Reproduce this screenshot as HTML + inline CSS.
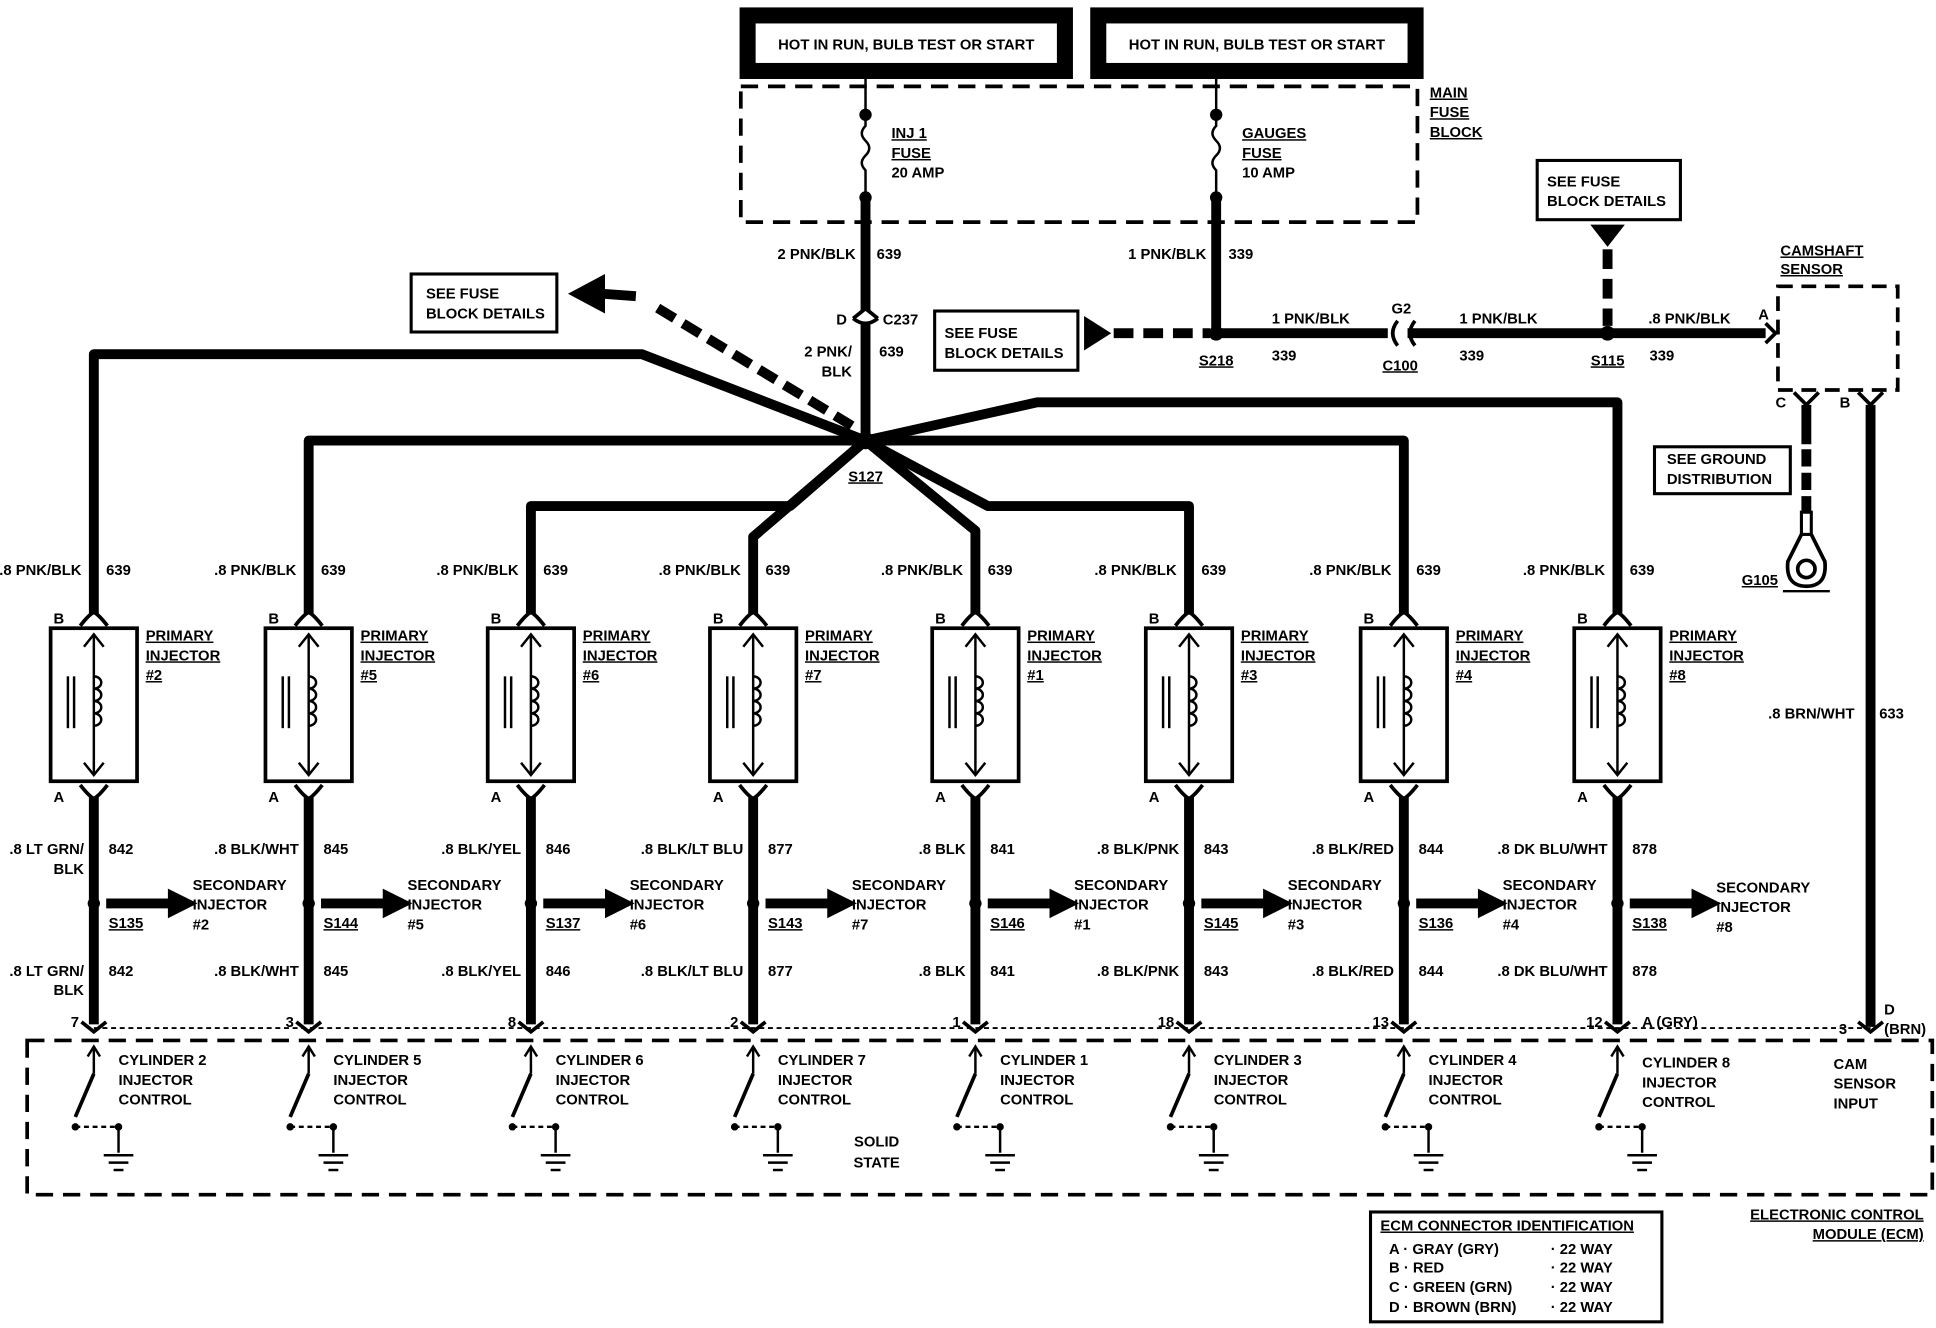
<!DOCTYPE html>
<html><head><meta charset="utf-8"><style>
html,body{margin:0;padding:0;background:#fff;}
svg{display:block;}
text{font-family:"Liberation Sans",sans-serif;font-weight:bold;font-size:12px;fill:#000;}
.u{text-decoration:underline;}
.w{stroke:#000;stroke-width:8;fill:none;stroke-linejoin:round;}
.th{stroke:#000;stroke-width:3;fill:none;}
.tn{stroke:#000;stroke-width:2;fill:none;}
</style></head><body>
<svg width="1936" height="1328" viewBox="0 0 1568 1076" preserveAspectRatio="none" xmlns="http://www.w3.org/2000/svg">
<defs>
<g id="inj">
 <path class="th" d="M-11,507 Q-4,498 0,496 Q4,498 11,507"/>
 <rect x="-35" y="509" width="70" height="124" class="th" stroke-width="4"/>
 <line x1="0" y1="514" x2="0" y2="628" class="tn"/>
 <polyline points="-8,524 0,514 8,524" class="tn"/>
 <polyline points="-8,618 0,628 8,618" class="tn"/>
 <path class="tn" d="M0,548 a6,5 0 1 1 0,10 a6,5 0 1 1 0,10 a6,5 0 1 1 0,10 a6,5 0 1 1 0,10"/>
 <line x1="-21" y1="548" x2="-21" y2="590" class="tn"/>
 <line x1="-16" y1="548" x2="-16" y2="590" class="tn"/>
 <path class="th" d="M-11,636 Q-4,645 0,647 Q4,645 11,636"/>
 <line x1="0" y1="646" x2="0" y2="830" class="w"/>
 <circle cx="0" cy="732" r="5" fill="#000"/>
 <line x1="10" y1="732" x2="62" y2="732" class="w"/>
 <polygon points="60,720 84,732 60,744" fill="#000"/>
 <path class="th" d="M-10,828 L0,836 L10,828"/>
 <line x1="0" y1="848" x2="0" y2="870" class="tn"/>
 <polyline points="-5,856 0,848 5,856" class="tn"/>
 <line x1="0" y1="870" x2="-15" y2="905" class="th" stroke-width="2.5"/>
 <circle cx="-15" cy="913" r="3" fill="#000"/>
 <line x1="-15" y1="913" x2="20" y2="913" class="tn" stroke-dasharray="4 3"/>
 <line x1="20" y1="913" x2="20" y2="934" class="tn"/>
 <circle cx="20" cy="913" r="3" fill="#000"/>
 <line x1="8" y1="936" x2="32" y2="936" class="tn"/>
 <line x1="12" y1="942" x2="28" y2="942" class="tn"/>
 <line x1="16" y1="948" x2="24" y2="948" class="tn"/>
 <text x="-10" y="466" text-anchor="end">.8 PNK/BLK</text>
 <text x="10" y="466">639</text>
 <text x="-24" y="505" text-anchor="end">B</text>
 <text x="-24" y="650" text-anchor="end">A</text>
 <text x="42" y="519" class="u">PRIMARY</text>
 <text x="42" y="535" class="u">INJECTOR</text>
</g>
</defs>

<rect x="599" y="6" width="270" height="58" fill="#000"/>
<rect x="612" y="19" width="244" height="32" fill="#fff"/>
<text x="734" y="40" text-anchor="middle">HOT IN RUN, BULB TEST OR START</text>
<rect x="883" y="6" width="270" height="58" fill="#000"/>
<rect x="896" y="19" width="244" height="32" fill="#fff"/>
<text x="1018" y="40" text-anchor="middle">HOT IN RUN, BULB TEST OR START</text>

<rect x="600" y="70" width="548" height="110" fill="none" stroke="#000" stroke-width="3" stroke-dasharray="14 8"/>
<text x="1158" y="79" class="u">MAIN</text>
<text x="1158" y="95" class="u">FUSE</text>
<text x="1158" y="111" class="u">BLOCK</text>
<line x1="701" y1="64" x2="701" y2="93" class="tn"/>
<circle cx="701" cy="93" r="5" fill="#000"/>
<path class="tn" d="M701,93 L701,102 q-6,6 0,12 q6,6 0,12 q-6,6 0,12 L701,160"/>
<circle cx="701" cy="160" r="5" fill="#000"/>
<text x="722" y="112" class="u">INJ 1</text>
<text x="722" y="128" class="u">FUSE</text>
<text x="722" y="144">20 AMP</text>
<line x1="985" y1="64" x2="985" y2="93" class="tn"/>
<circle cx="985" cy="93" r="5" fill="#000"/>
<path class="tn" d="M985,93 L985,102 q-6,6 0,12 q6,6 0,12 q-6,6 0,12 L985,160"/>
<circle cx="985" cy="160" r="5" fill="#000"/>
<text x="1006" y="112" class="u">GAUGES</text>
<text x="1006" y="128" class="u">FUSE</text>
<text x="1006" y="144">10 AMP</text>

<line x1="701" y1="160" x2="701" y2="252" class="w"/>
<path class="th" d="M691,258 L701,250 L711,258"/>
<path class="th" d="M691,258 Q701,266 711,258"/>
<line x1="701" y1="262" x2="701" y2="357" class="w"/>
<text x="693" y="210" text-anchor="end">2 PNK/BLK</text>
<text x="710" y="210">639</text>
<text x="686" y="263" text-anchor="end">D</text>
<text x="715" y="263">C237</text>
<text x="690" y="289" text-anchor="end">2 PNK/</text>
<text x="690" y="305" text-anchor="end">BLK</text>
<text x="712" y="289">639</text>

<path class="w" d="M701,357 L520,287 L76,287 L76,497"/>
<path class="w" d="M701,357 L250,357 L250,497"/>
<path class="w" d="M701,357 L640,410 L430,410 L430,497"/>
<path class="w" d="M701,357 L610,435 L610,497"/>
<path class="w" d="M701,357 L790,430 L790,497"/>
<path class="w" d="M701,357 L800,410 L963,410 L963,497"/>
<path class="w" d="M701,357 L1137,357 L1137,497"/>
<path class="w" d="M701,357 L840,326 L1310,326 L1310,497"/>
<circle cx="701" cy="357" r="7" fill="#000"/>
<text x="701" y="390" text-anchor="middle" class="u">S127</text>
<line x1="690" y1="345" x2="530" y2="248" class="w" stroke-dasharray="16 8"/>
<line x1="515" y1="240" x2="488" y2="238" class="w"/>
<polygon points="460,238 490,222 490,254" fill="#000"/>
<rect x="333" y="222" width="118" height="47" fill="#fff" stroke="#000" stroke-width="2.5"/>
<text x="345" y="242">SEE FUSE</text>
<text x="345" y="258">BLOCK DETAILS</text>

<line x1="985" y1="160" x2="985" y2="270" class="w"/>
<text x="977" y="210" text-anchor="end">1 PNK/BLK</text>
<text x="995" y="210">339</text>
<rect x="757" y="252" width="116" height="48" fill="#fff" stroke="#000" stroke-width="2.5"/>
<text x="765" y="274">SEE FUSE</text>
<text x="765" y="290">BLOCK DETAILS</text>
<polygon points="878,256 900,270 878,284" fill="#000"/>
<line x1="902" y1="270" x2="980" y2="270" class="w" stroke-dasharray="16 8"/>
<line x1="985" y1="270" x2="1124" y2="270" class="w"/>
<path class="th" d="M1132,260 Q1124,270 1132,280"/>
<path class="th" d="M1146,260 Q1138,270 1146,280"/>
<line x1="1140" y1="270" x2="1430" y2="270" class="w"/>
<circle cx="985" cy="270" r="6" fill="#000"/>
<text x="985" y="296" text-anchor="middle" class="u">S218</text>
<text x="1030" y="262">1 PNK/BLK</text>
<text x="1030" y="292">339</text>
<text x="1135" y="254" text-anchor="middle">G2</text>
<text x="1134" y="300" text-anchor="middle" class="u">C100</text>
<text x="1182" y="262">1 PNK/BLK</text>
<text x="1182" y="292">339</text>
<circle cx="1302" cy="270" r="6" fill="#000"/>
<text x="1302" y="296" text-anchor="middle" class="u">S115</text>
<text x="1335" y="262">.8 PNK/BLK</text>
<text x="1336" y="292">339</text>
<rect x="1245" y="130" width="116" height="48" fill="#fff" stroke="#000" stroke-width="2.5"/>
<text x="1253" y="151">SEE FUSE</text>
<text x="1253" y="167">BLOCK DETAILS</text>
<polygon points="1288,182 1316,182 1302,200" fill="#000"/>
<line x1="1302" y1="202" x2="1302" y2="264" class="w" stroke-dasharray="16 8"/>

<path class="th" d="M1430,262 L1438,270 L1430,278"/>
<rect x="1440" y="232" width="97" height="84" fill="none" stroke="#000" stroke-width="3" stroke-dasharray="12 7"/>
<text x="1442" y="207" class="u">CAMSHAFT</text>
<text x="1442" y="222" class="u">SENSOR</text>
<text x="1424" y="259">A</text>
<text x="1438" y="330">C</text>
<text x="1490" y="330">B</text>
<path class="th" d="M1453,318 L1463,328 L1473,318"/>
<path class="th" d="M1505,318 L1515,328 L1525,318"/>
<line x1="1463" y1="328" x2="1463" y2="360" class="w"/>
<line x1="1463" y1="364" x2="1463" y2="415" class="w" stroke-dasharray="14 5"/>
<rect x="1340" y="362" width="110" height="38" fill="#fff" stroke="#000" stroke-width="2.5"/>
<text x="1350" y="376">SEE GROUND</text>
<text x="1350" y="392">DISTRIBUTION</text>
<rect x="1459" y="415" width="8" height="18" fill="none" stroke="#000" stroke-width="2.5"/>
<path class="th" d="M1459,433 L1448,455 Q1446,475 1463,475 Q1480,475 1478,455 L1467,433"/>
<circle cx="1463" cy="461" r="7" class="th"/>
<line x1="1444" y1="479" x2="1482" y2="479" class="tn"/>
<text x="1440" y="474" text-anchor="end" class="u">G105</text>
<line x1="1515" y1="328" x2="1515" y2="832" class="w"/>
<text x="1502" y="582" text-anchor="end">.8 BRN/WHT</text>
<text x="1522" y="582">633</text>
<path class="th" d="M1505,828 L1515,836 L1525,828"/>
<text x="1496" y="838" text-anchor="end">3</text>
<text x="1526" y="822">D</text>
<text x="1526" y="838">(BRN)</text>
<text x="1485" y="866">CAM</text>
<text x="1485" y="882">SENSOR</text>
<text x="1485" y="898">INPUT</text>

<line x1="76" y1="833" x2="1515" y2="833" stroke="#000" stroke-width="1.5" stroke-dasharray="4 3"/>
<rect x="22" y="843" width="1543" height="125" fill="none" stroke="#000" stroke-width="3" stroke-dasharray="14 8"/>
<text x="710" y="929" text-anchor="middle" font-size="14">SOLID</text>
<text x="710" y="946" text-anchor="middle" font-size="14">STATE</text>
<text x="1558" y="988" text-anchor="end" class="u">ELECTRONIC CONTROL</text>
<text x="1558" y="1004" text-anchor="end" class="u">MODULE (ECM)</text>
<rect x="1110" y="982" width="236" height="89" fill="none" stroke="#000" stroke-width="2.5"/>
<text x="1118" y="997" class="u">ECM CONNECTOR IDENTIFICATION</text>
<text x="1125" y="1016">A  ·  GRAY (GRY)</text><text x="1256" y="1016">·  22 WAY</text>
<text x="1125" y="1031">B  ·  RED</text><text x="1256" y="1031">·  22 WAY</text>
<text x="1125" y="1047">C  ·  GREEN (GRN)</text><text x="1256" y="1047">·  22 WAY</text>
<text x="1125" y="1063">D  ·  BROWN (BRN)</text><text x="1256" y="1063">·  22 WAY</text>

<g transform="translate(76,0)"><use href="#inj"/>
<text x="42" y="551" class="u">#2</text>
<text x="-8" y="692" text-anchor="end">.8 LT GRN/</text><text x="-8" y="708" text-anchor="end">BLK</text><text x="12" y="692">842</text>
<text x="12" y="752" class="u">S135</text>
<text x="80" y="721">SECONDARY</text><text x="80" y="737">INJECTOR</text><text x="80" y="753">#2</text>
<text x="-8" y="791" text-anchor="end">.8 LT GRN/</text><text x="-8" y="806" text-anchor="end">BLK</text><text x="12" y="791">842</text>
<text x="-12" y="832" text-anchor="end">7</text>
<text x="20" y="863">CYLINDER 2</text><text x="20" y="879">INJECTOR</text><text x="20" y="895">CONTROL</text></g>

<g transform="translate(250,0)"><use href="#inj"/>
<text x="42" y="551" class="u">#5</text>
<text x="-8" y="692" text-anchor="end">.8 BLK/WHT</text><text x="12" y="692">845</text>
<text x="12" y="752" class="u">S144</text>
<text x="80" y="721">SECONDARY</text><text x="80" y="737">INJECTOR</text><text x="80" y="753">#5</text>
<text x="-8" y="791" text-anchor="end">.8 BLK/WHT</text><text x="12" y="791">845</text>
<text x="-12" y="832" text-anchor="end">3</text>
<text x="20" y="863">CYLINDER 5</text><text x="20" y="879">INJECTOR</text><text x="20" y="895">CONTROL</text></g>

<g transform="translate(430,0)"><use href="#inj"/>
<text x="42" y="551" class="u">#6</text>
<text x="-8" y="692" text-anchor="end">.8 BLK/YEL</text><text x="12" y="692">846</text>
<text x="12" y="752" class="u">S137</text>
<text x="80" y="721">SECONDARY</text><text x="80" y="737">INJECTOR</text><text x="80" y="753">#6</text>
<text x="-8" y="791" text-anchor="end">.8 BLK/YEL</text><text x="12" y="791">846</text>
<text x="-12" y="832" text-anchor="end">8</text>
<text x="20" y="863">CYLINDER 6</text><text x="20" y="879">INJECTOR</text><text x="20" y="895">CONTROL</text></g>

<g transform="translate(610,0)"><use href="#inj"/>
<text x="42" y="551" class="u">#7</text>
<text x="-8" y="692" text-anchor="end">.8 BLK/LT BLU</text><text x="12" y="692">877</text>
<text x="12" y="752" class="u">S143</text>
<text x="80" y="721">SECONDARY</text><text x="80" y="737">INJECTOR</text><text x="80" y="753">#7</text>
<text x="-8" y="791" text-anchor="end">.8 BLK/LT BLU</text><text x="12" y="791">877</text>
<text x="-12" y="832" text-anchor="end">2</text>
<text x="20" y="863">CYLINDER 7</text><text x="20" y="879">INJECTOR</text><text x="20" y="895">CONTROL</text></g>

<g transform="translate(790,0)"><use href="#inj"/>
<text x="42" y="551" class="u">#1</text>
<text x="-8" y="692" text-anchor="end">.8 BLK</text><text x="12" y="692">841</text>
<text x="12" y="752" class="u">S146</text>
<text x="80" y="721">SECONDARY</text><text x="80" y="737">INJECTOR</text><text x="80" y="753">#1</text>
<text x="-8" y="791" text-anchor="end">.8 BLK</text><text x="12" y="791">841</text>
<text x="-12" y="832" text-anchor="end">1</text>
<text x="20" y="863">CYLINDER 1</text><text x="20" y="879">INJECTOR</text><text x="20" y="895">CONTROL</text></g>

<g transform="translate(963,0)"><use href="#inj"/>
<text x="42" y="551" class="u">#3</text>
<text x="-8" y="692" text-anchor="end">.8 BLK/PNK</text><text x="12" y="692">843</text>
<text x="12" y="752" class="u">S145</text>
<text x="80" y="721">SECONDARY</text><text x="80" y="737">INJECTOR</text><text x="80" y="753">#3</text>
<text x="-8" y="791" text-anchor="end">.8 BLK/PNK</text><text x="12" y="791">843</text>
<text x="-12" y="832" text-anchor="end">18</text>
<text x="20" y="863">CYLINDER 3</text><text x="20" y="879">INJECTOR</text><text x="20" y="895">CONTROL</text></g>

<g transform="translate(1137,0)"><use href="#inj"/>
<text x="42" y="551" class="u">#4</text>
<text x="-8" y="692" text-anchor="end">.8 BLK/RED</text><text x="12" y="692">844</text>
<text x="12" y="752" class="u">S136</text>
<text x="80" y="721">SECONDARY</text><text x="80" y="737">INJECTOR</text><text x="80" y="753">#4</text>
<text x="-8" y="791" text-anchor="end">.8 BLK/RED</text><text x="12" y="791">844</text>
<text x="-12" y="832" text-anchor="end">13</text>
<text x="20" y="863">CYLINDER 4</text><text x="20" y="879">INJECTOR</text><text x="20" y="895">CONTROL</text></g>

<g transform="translate(1310,0)"><use href="#inj"/>
<text x="42" y="551" class="u">#8</text>
<text x="-8" y="692" text-anchor="end">.8 DK BLU/WHT</text><text x="12" y="692">878</text>
<text x="12" y="752" class="u">S138</text>
<text x="80" y="723">SECONDARY</text><text x="80" y="739">INJECTOR</text><text x="80" y="755">#8</text>
<text x="-8" y="791" text-anchor="end">.8 DK BLU/WHT</text><text x="12" y="791">878</text>
<text x="-12" y="832" text-anchor="end">12</text>
<text x="20" y="832">A  (GRY)</text>
<text x="20" y="865">CYLINDER 8</text><text x="20" y="881">INJECTOR</text><text x="20" y="897">CONTROL</text></g>
</svg>
</body></html>
